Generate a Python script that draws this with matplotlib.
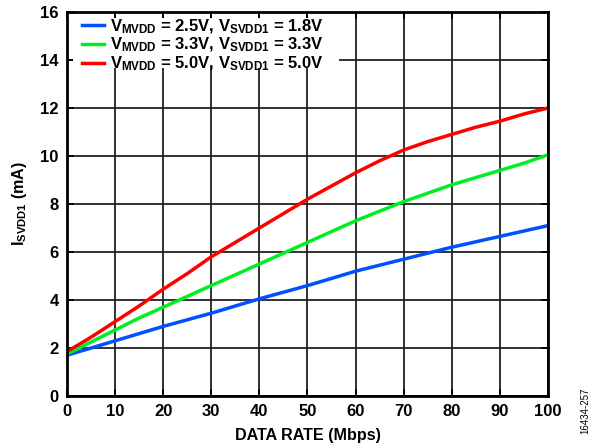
import matplotlib
import matplotlib.pyplot as plt
import numpy as np
from matplotlib.patches import Rectangle

matplotlib.use("agg")
plt.rcParams["font.family"] = ["Liberation Sans", "DejaVu Sans"]
plt.rcParams["font.weight"] = "bold"
plt.rcParams["mathtext.fontset"] = "custom"
plt.rcParams["mathtext.rm"] = "Liberation Sans:bold"
plt.rcParams["mathtext.bf"] = "Liberation Sans:bold"
plt.rcParams["mathtext.it"] = "Liberation Sans:bold"

rate_coarse = [0, 10, 20, 30, 40, 50, 60, 70, 80, 90, 100]
rate_fine = [0, 5, 10, 15, 20, 25, 30, 35, 40, 45, 50,
             55, 60, 65, 70, 75, 80, 85, 90, 95, 100]
i_25_18 = [1.7, 2.3, 2.9, 3.45, 4.05, 4.6, 5.2, 5.7, 6.2, 6.65, 7.1]
i_33_33 = [1.75, 2.25, 2.75, 3.25, 3.7, 4.15, 4.6, 5.05, 5.5, 5.95, 6.4,
           6.85, 7.3, 7.7, 8.1, 8.45, 8.8, 9.1, 9.4, 9.7, 10.05]
i_50_50 = [1.85, 2.45, 3.1, 3.75, 4.45, 5.1, 5.8, 6.4, 7.0, 7.6, 8.2,
           8.75, 9.3, 9.8, 10.25, 10.6, 10.9, 11.2, 11.45, 11.75, 12.0]

labels = [
    r"$V_{MVDD}$ = 2.5V, $V_{SVDD1}$ = 1.8V",
    r"$V_{MVDD}$ = 3.3V, $V_{SVDD1}$ = 3.3V",
    r"$V_{MVDD}$ = 5.0V, $V_{SVDD1}$ = 5.0V",
]
colors = ["#0050ff", "#00ee22", "#ff0000"]

fig = plt.figure(figsize=(5.96, 4.46), dpi=100)
ax = fig.add_axes([0.1124, 0.1121, 0.807, 0.861])

series = [(rate_coarse, i_25_18), (rate_fine, i_33_33), (rate_fine, i_50_50)]
for (xs, ys), c, lab in zip(series, colors, labels):
    ax.plot(xs, ys, color=c, lw=2.5, label=lab, zorder=3)

ax.set_xlim(0, 100)
ax.set_ylim(0, 16)
ax.set_xticks(np.arange(0, 101, 10))
ax.set_yticks(np.arange(0, 17, 2))
ax.grid(True, color="#222222", lw=1.3)
ax.set_axisbelow(True)
ax.tick_params(direction="in", top=True, right=True, length=5, width=1.3,
               labelsize=12, pad=6)
for lbl in ax.get_xticklabels() + ax.get_yticklabels():
    lbl.set_fontweight("bold")
for s in ax.spines.values():
    s.set_linewidth(2)
    s.set_zorder(5)

ax.set_xlabel("DATA RATE (Mbps)", fontsize=11.6, fontweight="bold", labelpad=6)
ax.set_ylabel(r"$I_{SVDD1}$ (mA)", fontsize=11.6, fontweight="bold", labelpad=8)

# white block behind the legend hides the grid, leaving the tick stubs
ax.add_patch(Rectangle((0.0125, 0.853), 0.5525, 0.132, transform=ax.transAxes,
                       facecolor="white", edgecolor="none", zorder=1))
leg = ax.legend(loc="upper left", bbox_to_anchor=(0.025, 0.995), fontsize=12,
                frameon=False, borderpad=0.2, labelspacing=0.02,
                handlelength=1.3, handletextpad=0.35, borderaxespad=0)
leg.set_zorder(4)

fig.text(0.982, 0.08, "16434-257", rotation=90, fontsize=7, fontweight="normal",
         ha="center", va="center")

fig.savefig("out.png", dpi=100)
